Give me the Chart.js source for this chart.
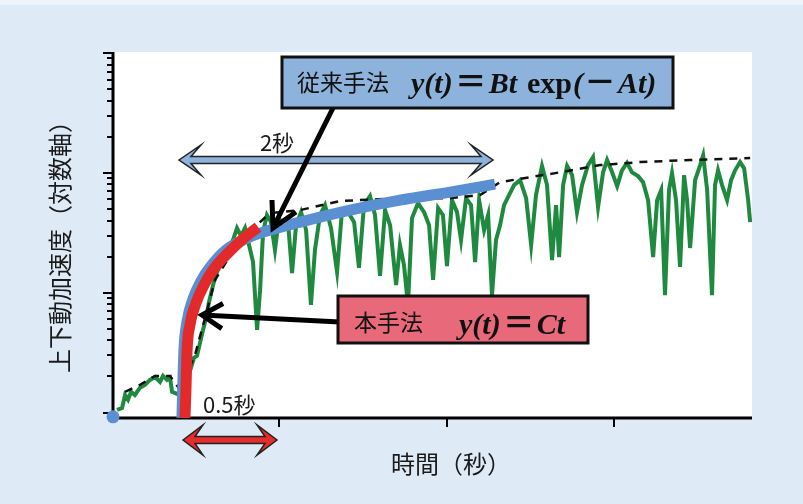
<!DOCTYPE html>
<html lang="ja">
<head>
<meta charset="utf-8">
<title>上下動加速度</title>
<script src="https://cdn.jsdelivr.net/npm/chart.js@4.4.1/dist/chart.umd.min.js"></script>
<style>
  html, body { margin: 0; padding: 0; }
  body {
    width: 803px; height: 504px; overflow: hidden;
    background: linear-gradient(#eef4fa 0 5px, #deebf7 5px);
  }
  canvas { display: block; }
</style>
</head>
<body>
<canvas id="chart" width="803" height="504"></canvas>
<script>
'use strict';

// ── Data (time in seconds, acceleration on a log axis) ───────────────────────
const xTicks      = [1, 2, 3];
const yMajorTicks = [1, 10, 100, 1000];
const yMinorTicks = [2, 3, 4, 5, 6, 7, 8, 9,
                     20, 30, 40, 50, 60, 70, 80, 90,
                     200, 300, 400, 500, 600, 700, 800, 900];

// measured record (green)
const greenT = [0.030, 0.060, 0.078, 0.096, 0.114, 0.137, 0.167, 0.197, 0.227, 0.257,
                0.287, 0.305, 0.329, 0.347, 0.359, 0.389, 0.418, 0.448, 0.472, 0.490,
                0.508, 0.526, 0.544, 0.562, 0.580, 0.604, 0.628, 0.658, 0.693, 0.723,
                0.747, 0.771, 0.795, 0.819, 0.843, 0.867, 0.885, 0.903, 0.926, 0.950,
                0.974, 0.998, 1.028, 1.052, 1.076, 1.100, 1.130, 1.160, 1.189, 1.213,
                1.243, 1.273, 1.309, 1.345, 1.375, 1.411, 1.447, 1.476, 1.506, 1.542,
                1.572, 1.602, 1.632, 1.662, 1.698, 1.721, 1.745, 1.769, 1.793, 1.829,
                1.865, 1.895, 1.919, 1.949, 1.978, 2.002, 2.032, 2.062, 2.086, 2.116,
                2.146, 2.170, 2.194, 2.224, 2.248, 2.271, 2.295, 2.319, 2.343, 2.373,
                2.403, 2.439, 2.475, 2.505, 2.534, 2.570, 2.600, 2.630, 2.654, 2.672,
                2.696, 2.720, 2.750, 2.779, 2.809, 2.845, 2.875, 2.905, 2.935, 2.959,
                2.989, 3.019, 3.048, 3.078, 3.108, 3.144, 3.174, 3.204, 3.234, 3.258,
                3.282, 3.305, 3.329, 3.347, 3.371, 3.395, 3.419, 3.437, 3.455, 3.485,
                3.515, 3.533, 3.557, 3.586, 3.604, 3.622, 3.646, 3.676, 3.700, 3.724,
                3.754, 3.778, 3.802, 3.814];
const greenV = [1.05, 1.09, 1.40, 1.28, 1.49, 1.40, 1.61, 1.70, 1.87, 1.98,
                1.80, 2.02, 1.87, 1.95, 1.49, 1.43, 1.46, 1.87, 2.36, 2.86,
                2.97, 3.81, 4.89, 6.15, 8.36, 11.6, 14.9, 18.0, 21.8, 27.5,
                34.6, 29.7, 34.6, 25.0, 18.0, 4.89, 10.5, 32.1, 44.4, 38.8,
                22.7, 41.9, 34.6, 38.8, 14.6, 36.5, 47.0, 33.3, 7.90, 22.7,
                44.4, 53.8, 34.6, 14.9, 48.9, 47.0, 38.8, 16.1, 53.8, 63.9,
                44.4, 13.8, 48.9, 36.5, 11.6, 25.0, 17.0, 7.90, 41.9, 55.9,
                47.0, 36.5, 12.8, 50.8, 44.4, 16.7, 59.2, 47.0, 27.5, 61.5,
                53.8, 18.0, 59.2, 33.3, 44.4, 9.55, 27.5, 36.5, 53.8, 65.2,
                79.0, 86.9, 61.5, 25.0, 65.2, 114, 79.0, 18.7, 53.8, 19.8,
                79.0, 114, 95.7, 47.0, 79.0, 116, 135, 51.8, 101, 128,
                101, 77.5, 105, 121, 101, 93.9, 83.7, 59.2, 19.8, 59.2,
                71.8, 9.55, 71.8, 99.5, 59.2, 16.4, 95.7, 59.2, 23.6, 86.9,
                116, 140, 71.8, 9.55, 79.0, 105, 79.0, 59.2, 86.9, 105,
                123, 109, 59.2, 38.8];

// envelope (black dashed)
const trendT = [0.078, 0.167, 0.257, 0.347, 0.406, 0.496, 0.556, 0.616, 0.765, 0.944,
                1.124, 1.363, 1.721, 2.020, 2.200, 2.319, 2.499, 2.678, 2.917, 3.156,
                3.455, 3.814];
const trendV = [1.49, 1.70, 2.02, 2.02, 1.55, 3.02, 6.15, 12.8, 27.5, 46.1,
                48.9, 58.1, 61.5, 61.5, 65.2, 83.6, 92.0, 101, 116, 123,
                128, 133];

// conventional model y(t) = Bt exp(-At) (blue)
const blueT = [0.418, 0.424, 0.430, 0.448, 0.484, 0.532, 0.592, 0.681, 0.795, 0.885,
               1.124, 1.423, 1.721, 2.020, 2.289];
const blueV = [0.90, 1.87, 3.33, 5.70, 8.86, 12.5, 16.7, 22.7, 28.0, 31.4,
               38.8, 48.9, 59.2, 69.1, 80.5];

// proposed model y(t) = Ct (red)
const redT = [0.436, 0.442, 0.448, 0.466, 0.502, 0.550, 0.604, 0.693, 0.795, 0.873];
const redV = [0.90, 1.55, 3.15, 5.38, 8.2, 11.6, 15.5, 21.4, 29.1, 35.3];

const toXY = (xs, ys) => xs.map((x, i) => ({ x: x, y: ys[i] }));

// ── Drawing helpers ───────────────────────────────────────────────────────────
const JP = '"Noto Sans CJK JP", "Noto Sans", sans-serif';

// draw text runs left to right; each run is [text, font, gap after]
function drawRuns(ctx, x, y, parts) {
  parts.forEach(([txt, font, gap]) => {
    ctx.font = font;
    ctx.fillText(txt, x, y);
    x += ctx.measureText(txt).width + (gap || 0);
  });
  return x;
}

function doubleArrow(ctx, x1, x2, y, s, h, len, k, fill) {
  ctx.beginPath();
  ctx.moveTo(x1, y);
  ctx.lineTo(x1 + len, y - h);
  ctx.lineTo(x1 + k, y - s);
  ctx.lineTo(x2 - k, y - s);
  ctx.lineTo(x2 - len, y - h);
  ctx.lineTo(x2, y);
  ctx.lineTo(x2 - len, y + h);
  ctx.lineTo(x2 - k, y + s);
  ctx.lineTo(x1 + k, y + s);
  ctx.lineTo(x1 + len, y + h);
  ctx.closePath();
  ctx.fillStyle = fill;
  ctx.fill();
  ctx.lineWidth = 1.5;
  ctx.strokeStyle = '#222';
  ctx.stroke();
}

function pointer(ctx, x0, y0, x1, y1, barb, ang) {
  const a = Math.atan2(y0 - y1, x0 - x1);
  ctx.strokeStyle = '#000';
  ctx.lineWidth = 5;
  ctx.lineCap = 'butt';
  ctx.lineJoin = 'miter';
  ctx.beginPath();
  ctx.moveTo(x0, y0);
  ctx.lineTo(x1, y1);
  ctx.stroke();
  ctx.beginPath();
  ctx.moveTo(x1 + barb * Math.cos(a + ang), y1 + barb * Math.sin(a + ang));
  ctx.lineTo(x1, y1);
  ctx.lineTo(x1 + barb * Math.cos(a - ang), y1 + barb * Math.sin(a - ang));
  ctx.stroke();
}

// ── Plugin: plot background, axes and annotations ────────────────────────────
const decor = {
  id: 'decor',
  beforeDraw(chart) {
    const { ctx, chartArea: a } = chart;
    ctx.save();
    ctx.fillStyle = '#ffffff';
    ctx.fillRect(a.left, a.top - 1, a.right - a.left, a.bottom - a.top + 1);
    ctx.restore();
  },
  beforeDatasetsDraw(chart) {
    const { ctx, chartArea: a, scales } = chart;
    const x0 = a.left + 1;
    const y0 = a.bottom;
    ctx.save();
    ctx.strokeStyle = '#000';
    ctx.lineWidth = 3;
    ctx.beginPath();
    ctx.moveTo(x0, a.top - 1);
    ctx.lineTo(x0, y0 + 1.5);
    ctx.moveTo(x0 - 1.5, y0);
    ctx.lineTo(a.right, y0);
    ctx.stroke();

    ctx.lineWidth = 2;
    ctx.beginPath();
    yMajorTicks.forEach(v => {
      const py = Math.round(scales.y.getPixelForValue(v));
      ctx.moveTo(x0 - 10, py);
      ctx.lineTo(x0, py);
    });
    yMinorTicks.forEach(v => {
      const py = Math.round(scales.y.getPixelForValue(v));
      ctx.moveTo(x0 - 6, py);
      ctx.lineTo(x0, py);
    });
    xTicks.forEach(t => {
      const px = Math.round(scales.x.getPixelForValue(t));
      ctx.moveTo(px, y0);
      ctx.lineTo(px, y0 + 9);
    });
    ctx.stroke();

    // axis titles
    ctx.fillStyle = '#1a1a1a';
    ctx.textAlign = 'center';
    ctx.textBaseline = 'middle';
    ctx.font = '24px ' + JP;
    ctx.fillText('時間（秒）', 451, 464);
    ctx.translate(60, 241);
    ctx.rotate(-Math.PI / 2);
    ctx.font = '24px ' + JP;
    ctx.fillText('上下動加速度（対数軸）', 0, 0);
    ctx.restore();
  },
  afterDatasetsDraw(chart) {
    const { ctx } = chart;
    ctx.save();

    // duration arrows
    doubleArrow(ctx, 179, 493, 160, 3.5, 15, 22, 12, '#8db3dc');
    doubleArrow(ctx, 183, 277, 440, 3.5, 15, 20, 12, '#e52d2d');

    ctx.fillStyle = '#1a1a1a';
    ctx.textBaseline = 'middle';
    ctx.textAlign = 'center';
    ctx.font = '22px ' + JP;
    ctx.fillText('2秒', 277, 143);
    ctx.textAlign = 'left';
    ctx.fillText('0.5秒', 203, 405);

    // pointers
    pointer(ctx, 333, 108, 273, 228, 28, 0.5);
    pointer(ctx, 340, 322, 202, 315, 24, 0.55);

    // conventional method box
    ctx.fillStyle = '#8db3dc';
    ctx.fillRect(282, 57, 391, 51);
    ctx.lineWidth = 3;
    ctx.strokeStyle = '#111';
    ctx.strokeRect(282, 57, 391, 51);

    // proposed method box
    ctx.fillStyle = '#e8697a';
    ctx.fillRect(338, 296, 250, 47);
    ctx.strokeRect(338, 296, 250, 47);

    const fi = 'italic bold 30px "Liberation Serif", serif';
    const fb = 'bold 30px "Liberation Serif", serif';
    const fj = 'bold 32px ' + JP;

    ctx.fillStyle = '#111';
    ctx.textAlign = 'left';
    ctx.textBaseline = 'middle';
    ctx.font = '23px ' + JP;
    ctx.fillText('従来手法', 297, 82);
    ctx.fillText('本手法', 354, 322);

    ctx.textBaseline = 'alphabetic';
    drawRuns(ctx, 411, 93, [['y(t)', fi, 2], ['＝', fj, 2], ['Bt', fi, 10], ['exp', fb, 1],
                            ['(', fi, 1], ['－', fj, 2], ['At)', fi, 0]]);
    drawRuns(ctx, 459, 334, [['y(t)', fi, 2], ['＝', fj, 2], ['Ct', fi, 0]]);
    ctx.restore();
  }
};

// ── Chart ─────────────────────────────────────────────────────────────────────
const ctx = document.getElementById('chart').getContext('2d');

new Chart(ctx, {
  type: 'line',
  data: {
    datasets: [
      {
        label: 'start',
        data: [{ x: 0.006, y: 0.92 }],
        showLine: false,
        pointRadius: 6.5,
        pointBackgroundColor: '#5a8fd2',
        pointBorderWidth: 0,
        clip: false,
        order: 0
      },
      {
        label: '本手法',
        data: toXY(redT, redV),
        borderColor: '#e22a2a',
        borderWidth: 11,
        borderCapStyle: 'butt',
        cubicInterpolationMode: 'monotone',
        pointRadius: 0,
        clip: 0,
        order: 1
      },
      {
        label: '従来手法',
        data: toXY(blueT, blueV),
        borderColor: '#5a8fd2',
        borderWidth: 11,
        borderCapStyle: 'butt',
        cubicInterpolationMode: 'monotone',
        pointRadius: 0,
        clip: 0,
        order: 2
      },
      {
        label: '包絡線',
        data: toXY(trendT, trendV),
        borderColor: '#111',
        borderWidth: 2.5,
        borderDash: [8, 7],
        pointRadius: 0,
        order: 3
      },
      {
        label: '上下動加速度',
        data: toXY(greenT, greenV),
        borderColor: '#1f8a3f',
        borderWidth: 4,
        pointRadius: 0,
        order: 4
      }
    ]
  },
  options: {
    responsive: false,
    animation: false,
    layout: { padding: { left: 112, right: 51, top: 53, bottom: 86 } },
    plugins: {
      legend: { display: false },
      tooltip: { enabled: false }
    },
    scales: {
      x: { type: 'linear', min: 0, max: 3.825, display: false },
      y: { type: 'logarithmic', min: 0.9, max: 1000, display: false }
    }
  },
  plugins: [decor]
});
</script>
</body>
</html>
